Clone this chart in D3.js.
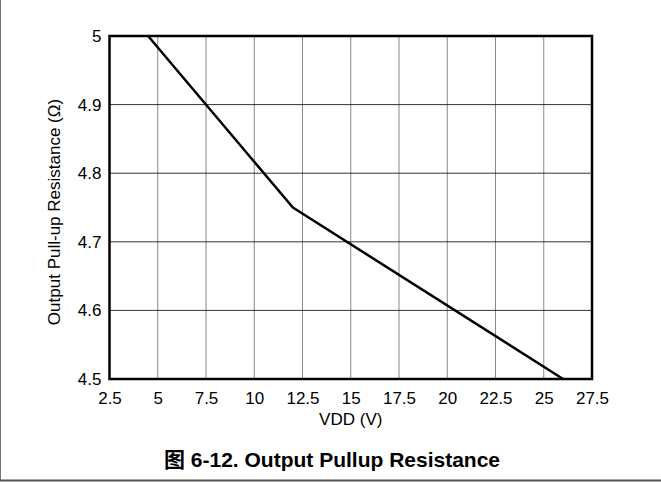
<!DOCTYPE html>
<html>
<head>
<meta charset="utf-8">
<script src="https://cdn.jsdelivr.net/npm/d3@7"></script>
<style>
  body { margin: 0; background: #fff; }
  svg { display: block; }
  .tick text { font-family: "Liberation Sans", Arial, sans-serif; font-size: 17px; fill: #000; }
</style>
</head>
<body>
<div id="chart"></div>
<script>
// data
var vdd = [4.5, 12, 26];
var resistance = [5.0, 4.75, 4.5];

var xTicks = [2.5, 5, 7.5, 10, 12.5, 15, 17.5, 20, 22.5, 25, 27.5];
var yTicks = [4.5, 4.6, 4.7, 4.8, 4.9, 5];

var width = 661;
var height = 482;

// plot box
var plotLeft = 109.5, plotRight = 592, plotTop = 36, plotBottom = 379;

var svg = d3.select("#chart")
    .append("svg")
    .attr("width", width)
    .attr("height", height);

// page frame (left and bottom rule)
svg.append("line")
    .attr("x1", 0.5).attr("x2", 0.5)
    .attr("y1", 0).attr("y2", 481)
    .attr("stroke", "#777").attr("stroke-width", 1);
svg.append("line")
    .attr("x1", 0).attr("x2", width)
    .attr("y1", 480.5).attr("y2", 480.5)
    .attr("stroke", "#555").attr("stroke-width", 2);

var xScale = d3.scaleLinear().domain([2.5, 27.5]).range([plotLeft, plotRight]);
var yScale = d3.scaleLinear().domain([4.5, 5]).range([plotBottom, plotTop]);

// grid
svg.append("g")
    .selectAll("line")
    .data(xTicks.slice(1, -1))
    .enter()
    .append("line")
    .attr("x1", function(d) { return xScale(d); })
    .attr("x2", function(d) { return xScale(d); })
    .attr("y1", plotTop).attr("y2", plotBottom)
    .attr("stroke", "#888").attr("stroke-width", 1);

svg.append("g")
    .selectAll("line")
    .data(yTicks.slice(1, -1))
    .enter()
    .append("line")
    .attr("x1", plotLeft).attr("x2", plotRight)
    .attr("y1", function(d) { return yScale(d); })
    .attr("y2", function(d) { return yScale(d); })
    .attr("stroke", "#000").attr("stroke-width", 0.8);

// axes (labels only, frame drawn below)
var xAxis = d3.axisBottom(xScale).tickValues(xTicks).tickSize(0).tickPadding(13)
    .tickFormat(function(d) { return d; });
var yAxis = d3.axisLeft(yScale).tickValues(yTicks).tickSize(0).tickPadding(8)
    .tickFormat(function(d) { return d; });

svg.append("g")
    .attr("transform", "translate(0," + plotBottom + ")")
    .call(xAxis)
    .call(function(g) { g.select(".domain").remove(); });

svg.append("g")
    .attr("transform", "translate(" + plotLeft + ",0)")
    .call(yAxis)
    .call(function(g) { g.select(".domain").remove(); });

// curve
var points = vdd.map(function(v, i) { return [v, resistance[i]]; });
var line = d3.line()
    .x(function(d) { return xScale(d[0]); })
    .y(function(d) { return yScale(d[1]); });

svg.append("path")
    .datum(points)
    .attr("d", line)
    .attr("fill", "none")
    .attr("stroke", "#000")
    .attr("stroke-width", 2.5)
    .attr("stroke-linejoin", "round");

// plot frame
svg.append("rect")
    .attr("x", plotLeft).attr("y", plotTop)
    .attr("width", plotRight - plotLeft).attr("height", plotBottom - plotTop)
    .attr("fill", "none")
    .attr("stroke", "#000")
    .attr("stroke-width", 2.5);

// axis titles
svg.append("text")
    .attr("x", (plotLeft + plotRight) / 2)
    .attr("y", 425)
    .attr("text-anchor", "middle")
    .attr("font-family", "Liberation Sans, Arial, sans-serif")
    .attr("font-size", 17)
    .text("VDD (V)");

svg.append("text")
    .attr("transform", "translate(60,212)rotate(-90)")
    .attr("text-anchor", "middle")
    .attr("font-family", "Liberation Sans, Arial, sans-serif")
    .attr("font-size", 17)
    .text("Output Pull-up Resistance (\u03A9)");

// caption
svg.append("text")
    .attr("x", 332)
    .attr("y", 467)
    .attr("text-anchor", "middle")
    .attr("font-family", "Liberation Sans, 'Noto Sans CJK SC', Arial, sans-serif")
    .attr("font-size", 21)
    .attr("font-weight", "bold")
    .text("图 6-12. Output Pullup Resistance");
</script>
</body>
</html>
